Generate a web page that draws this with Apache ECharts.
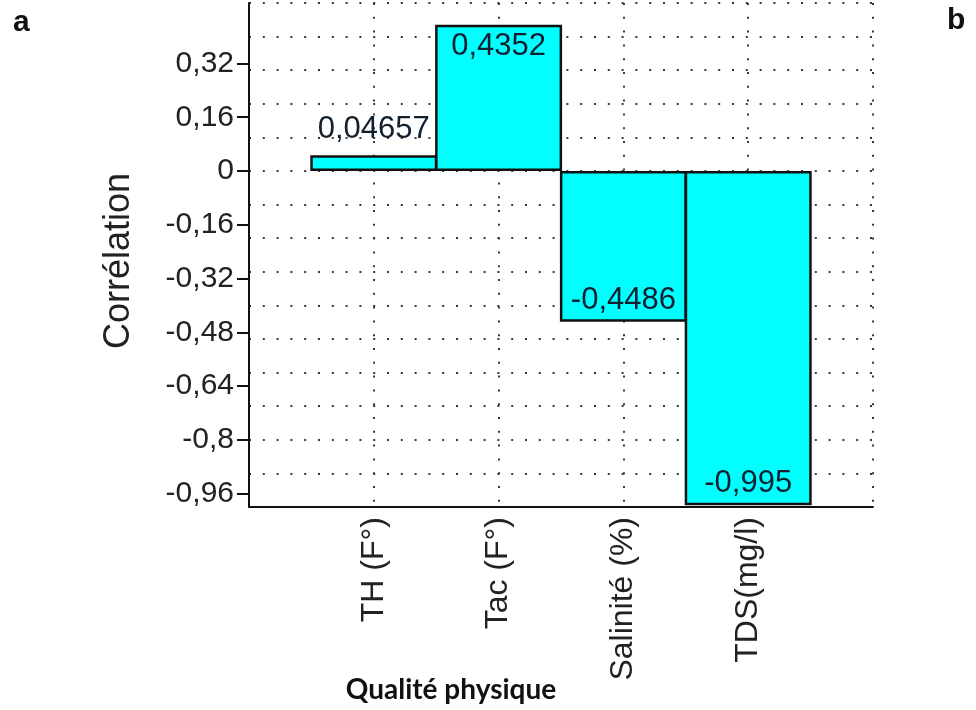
<!DOCTYPE html>
<html>
<head>
<meta charset="utf-8">
<script src="https://cdn.jsdelivr.net/npm/echarts@6/dist/echarts.min.js"></script>
<style>
  html, body { margin: 0; padding: 0; background: #fff; }
  #chart { width: 976px; height: 710px; }
</style>
</head>
<body>
<div id="chart"></div>
<script>
// Physical quality parameters and their correlation coefficients
const categories = ['TH (F°)', 'Tac (F°)', 'Salinité (%)', 'TDS(mg/l)'];
const correlations = [0.04657, 0.4352, -0.4486, -0.995];
// Labelled ticks on the correlation axis
const yTickValues = [-0.96, -0.8, -0.64, -0.48, -0.32, -0.16, 0, 0.16, 0.32];

const fmt = v => String(v).replace('.', ',');

// Category slots: an empty slot on each side so the bars sit between grid lines
const slots = [''].concat(categories, ['']);
const barData = [null].concat(correlations.map(v => {
  const small = Math.abs(v) < 0.1;
  return {
    value: v,
    label: {
      position: small ? (v >= 0 ? 'top' : 'bottom') : (v >= 0 ? 'insideTop' : 'insideBottom'),
      distance: small ? 10 : 6
    }
  };
}), [null]);

const dotted = { color: '#3a3a3a', width: 2, type: [2, 11.8] };
const textFont = '"Liberation Sans", Arial, sans-serif';

const chart = echarts.init(document.getElementById('chart'), null, { renderer: 'canvas' });
chart.setOption({
  animation: false,
  backgroundColor: '#ffffff',
  grid: { left: 249, right: 103, top: 3, bottom: 203, containLabel: false },
  xAxis: {
    type: 'category',
    data: slots,
    boundaryGap: false,
    axisLine: { show: true, onZero: false, lineStyle: { color: '#111', width: 2 } },
    axisTick: { show: false },
    splitLine: { show: true, lineStyle: dotted },
    axisLabel: {
      rotate: 90,
      margin: 10,
      interval: 0,
      fontFamily: textFont,
      fontSize: 32,
      color: '#222'
    }
  },
  yAxis: [
    {
      type: 'value',
      min: -1,
      max: 0.5,
      interval: 0.1,
      axisLine: { show: true, onZero: false, lineStyle: { color: '#111', width: 2 } },
      axisTick: { show: false },
      axisLabel: { show: false },
      splitLine: { show: true, lineStyle: dotted }
    },
    {
      type: 'value',
      min: -1,
      max: 0.5,
      position: 'left',
      axisLine: { show: false, onZero: false },
      splitLine: { show: false },
      axisTick: {
        show: true,
        length: 12,
        customValues: yTickValues,
        lineStyle: { color: '#111', width: 2 }
      },
      axisLabel: {
        show: true,
        margin: 15,
        customValues: yTickValues,
        formatter: v => fmt(v),
        fontFamily: textFont,
        fontSize: 30,
        color: '#222'
      },
      name: 'Corrélation',
      nameLocation: 'middle',
      nameGap: 112,
      nameRotate: 90,
      nameTextStyle: { fontFamily: textFont, fontSize: 36, color: '#222', padding: [0, 12, 0, 0] }
    }
  ],
  series: [
    {
      type: 'bar',
      yAxisIndex: 0,
      data: barData,
      barWidth: 127,
      barMinWidth: 127,
      itemStyle: { color: '#00ffff', borderColor: '#111', borderWidth: 2.5 },
      label: {
        show: true,
        formatter: p => fmt(p.value),
        fontFamily: textFont,
        fontSize: 31,
        color: '#10202e'
      }
    }
  ],
  graphic: [
    {
      type: 'text', left: 13, top: 8,
      style: { text: 'a', font: 'bold 30px "Liberation Sans", Arial, sans-serif', fill: '#111' }
    },
    {
      type: 'text', left: 947, top: 6,
      style: { text: 'b', font: 'bold 30px "Liberation Sans", Arial, sans-serif', fill: '#111' }
    },
    {
      type: 'text', x: 451, y: 690,
      style: {
        text: 'Qualité physique', font: 'bold 28px Lato, "Open Sans", sans-serif',
        fill: '#111', align: 'center', verticalAlign: 'middle'
      }
    }
  ]
});
</script>
</body>
</html>
